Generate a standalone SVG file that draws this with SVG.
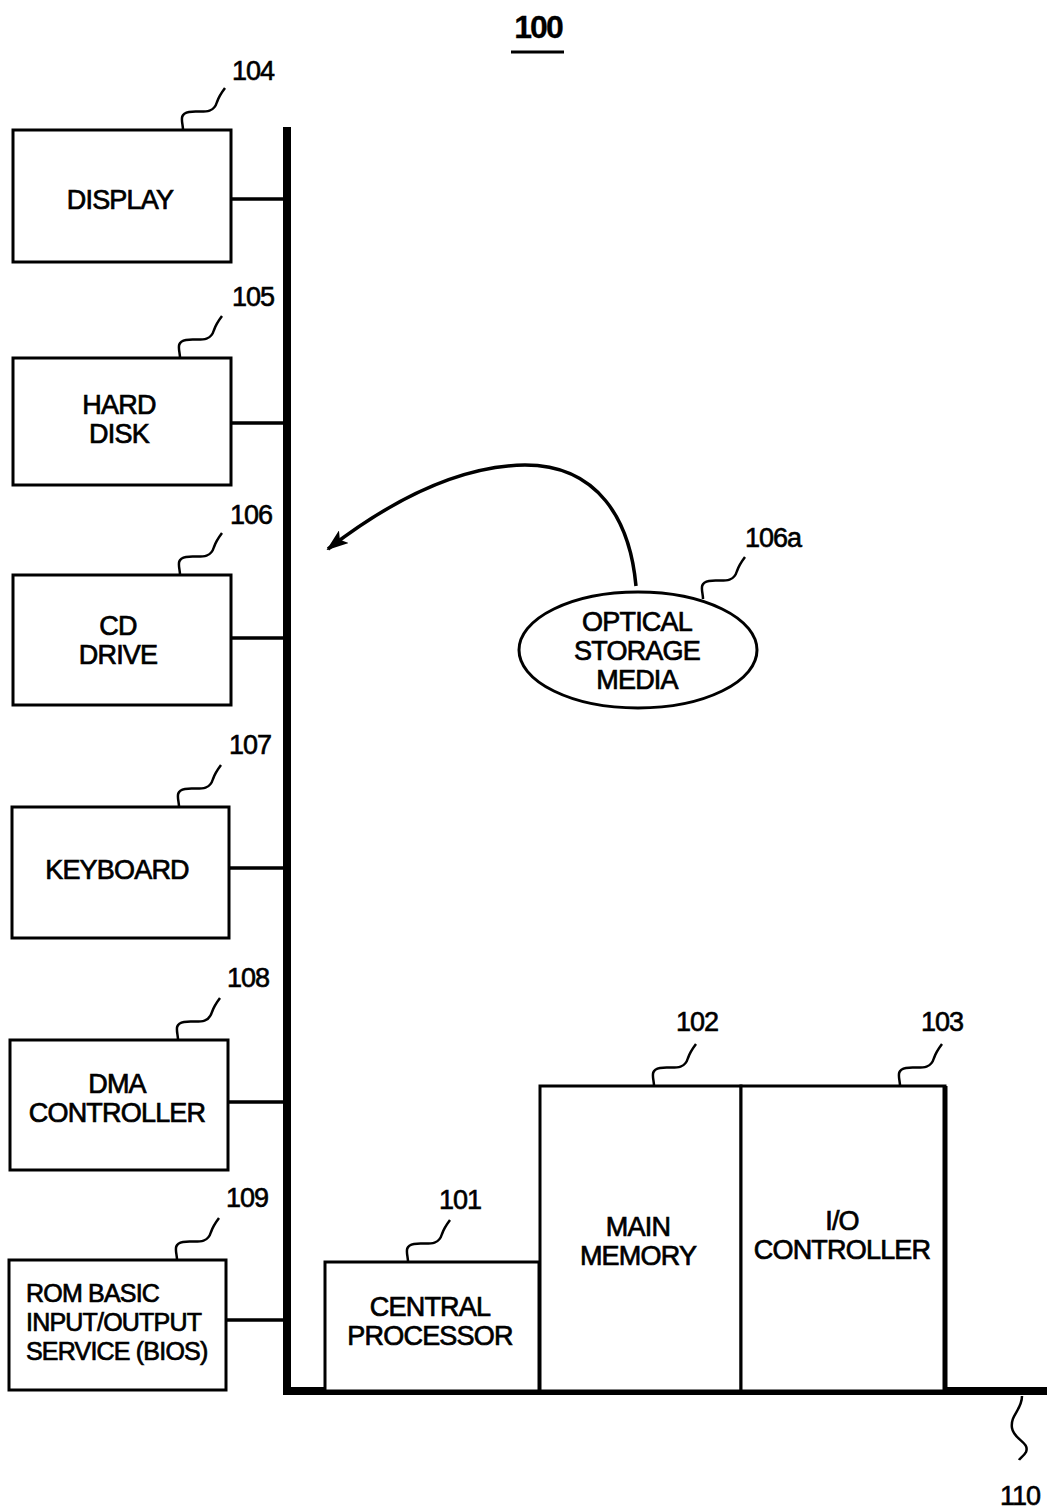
<svg xmlns="http://www.w3.org/2000/svg" width="1047" height="1509" viewBox="0 0 1047 1509">
<style>
.box{fill:#fff;stroke:#000;stroke-width:3}
.t{font-family:"Liberation Sans",Arial,sans-serif;font-size:27px;fill:#000;stroke:#000;stroke-width:0.7;text-anchor:middle;letter-spacing:-0.8px}
.n{font-family:"Liberation Sans",Arial,sans-serif;font-size:27px;fill:#000;stroke:#000;stroke-width:0.6;text-anchor:middle;letter-spacing:-1px}
.sq{fill:none;stroke:#000;stroke-width:2.5}
.bus{stroke:#000;stroke-width:8;fill:none}
.link{stroke:#000;stroke-width:3.5}
</style>
<defs>
<path id="sq" d="M0,0 C0,-8 -5,-16 6,-18 C16,-20 30,-14 34,-28 C36,-34 39,-38 42,-42" class="sq"/>
<marker id="ah" markerWidth="22" markerHeight="16" refX="20" refY="8" orient="auto" markerUnits="userSpaceOnUse" viewBox="0 0 22 16">
<path d="M0,0 L22,8 L0,16 L5,8 Z" fill="#000"/>
</marker>
</defs>
<g id="title">
<text class="n" x="538" y="38" style="font-size:32px;font-weight:bold;stroke-width:0.3;letter-spacing:-2px">100</text>
<line x1="511" y1="52" x2="564" y2="52" stroke="#000" stroke-width="3"/>
</g>
<g id="connectors">
<line class="bus" x1="287" y1="127" x2="287" y2="1395"/>
<line class="bus" x1="283" y1="1391" x2="1047" y2="1391"/>
<line class="link" x1="231" y1="199" x2="287" y2="199"/>
<line class="link" x1="231" y1="423" x2="287" y2="423"/>
<line class="link" x1="231" y1="638" x2="287" y2="638"/>
<line class="link" x1="229" y1="868" x2="287" y2="868"/>
<line class="link" x1="228" y1="1102" x2="287" y2="1102"/>
<line class="link" x1="226" y1="1320" x2="287" y2="1320"/>
<path d="M636,586 C630,520 598,465 525,465 C455,466 385,505 328,549" fill="none" stroke="#000" stroke-width="3.5" marker-end="url(#ah)"/>
<path class="sq" d="M1022,1396 C1022,1410 1010,1415 1012,1428 C1014,1440 1030,1442 1026,1452 C1024,1456 1020,1458 1019,1460"/>
<text class="n" x="1020" y="1505">110</text>
</g>
<g id="n104">
<rect class="box" x="13" y="130" width="218" height="132"/>
<text class="t" x="120" y="209">DISPLAY</text>
<use href="#sq" x="183" y="130"/>
<text class="n" x="253" y="80">104</text>
</g>
<g id="n105">
<rect class="box" x="13" y="358" width="218" height="127"/>
<text class="t" x="119" y="414">HARD</text>
<text class="t" x="119" y="443">DISK</text>
<use href="#sq" x="180" y="358"/>
<text class="n" x="253" y="306">105</text>
</g>
<g id="n106">
<rect class="box" x="13" y="575" width="218" height="130"/>
<text class="t" x="118" y="635">CD</text>
<text class="t" x="118" y="664">DRIVE</text>
<use href="#sq" x="180" y="575"/>
<text class="n" x="251" y="524">106</text>
</g>
<g id="n107">
<rect class="box" x="12" y="807" width="217" height="131"/>
<text class="t" x="117" y="879">KEYBOARD</text>
<use href="#sq" x="179" y="807"/>
<text class="n" x="250" y="754">107</text>
</g>
<g id="n108">
<rect class="box" x="10" y="1040" width="218" height="130"/>
<text class="t" x="117" y="1093">DMA</text>
<text class="t" x="117" y="1122">CONTROLLER</text>
<use href="#sq" x="178" y="1040"/>
<text class="n" x="248" y="987">108</text>
</g>
<g id="n109">
<rect class="box" x="9" y="1260" width="217" height="130"/>
<text class="t" x="26" y="1302" style="text-anchor:start;font-size:25px">ROM BASIC</text>
<text class="t" x="26" y="1331" style="text-anchor:start;font-size:25px">INPUT/OUTPUT</text>
<text class="t" x="26" y="1360" style="text-anchor:start;font-size:25px">SERVICE (BIOS)</text>
<use href="#sq" x="177" y="1260"/>
<text class="n" x="247" y="1207">109</text>
</g>
<g id="n101">
<rect class="box" x="325" y="1262" width="214" height="129"/>
<text class="t" x="430" y="1316">CENTRAL</text>
<text class="t" x="430" y="1345">PROCESSOR</text>
<use href="#sq" x="408" y="1262"/>
<text class="n" x="460" y="1209">101</text>
</g>
<g id="n102">
<rect class="box" x="540" y="1086" width="201" height="305"/>
<text class="t" x="638" y="1236">MAIN</text>
<text class="t" x="638" y="1265">MEMORY</text>
<use href="#sq" x="654" y="1086"/>
<text class="n" x="697" y="1031">102</text>
</g>
<g id="n103">
<rect class="box" x="741" y="1086" width="204" height="305"/>
<line x1="945" y1="1086" x2="945" y2="1391" stroke="#000" stroke-width="5"/>
<text class="t" x="842" y="1230">I/O</text>
<text class="t" x="842" y="1259">CONTROLLER</text>
<use href="#sq" x="900" y="1086"/>
<text class="n" x="942" y="1031">103</text>
</g>
<g id="n106a">
<ellipse cx="638" cy="650" rx="119" ry="58" fill="#fff" stroke="#000" stroke-width="3"/>
<text class="t" x="637" y="631">OPTICAL</text>
<text class="t" x="637" y="660">STORAGE</text>
<text class="t" x="637" y="689">MEDIA</text>
<use href="#sq" x="703" y="599"/>
<text class="n" x="773" y="547">106a</text>
</g>
</svg>
